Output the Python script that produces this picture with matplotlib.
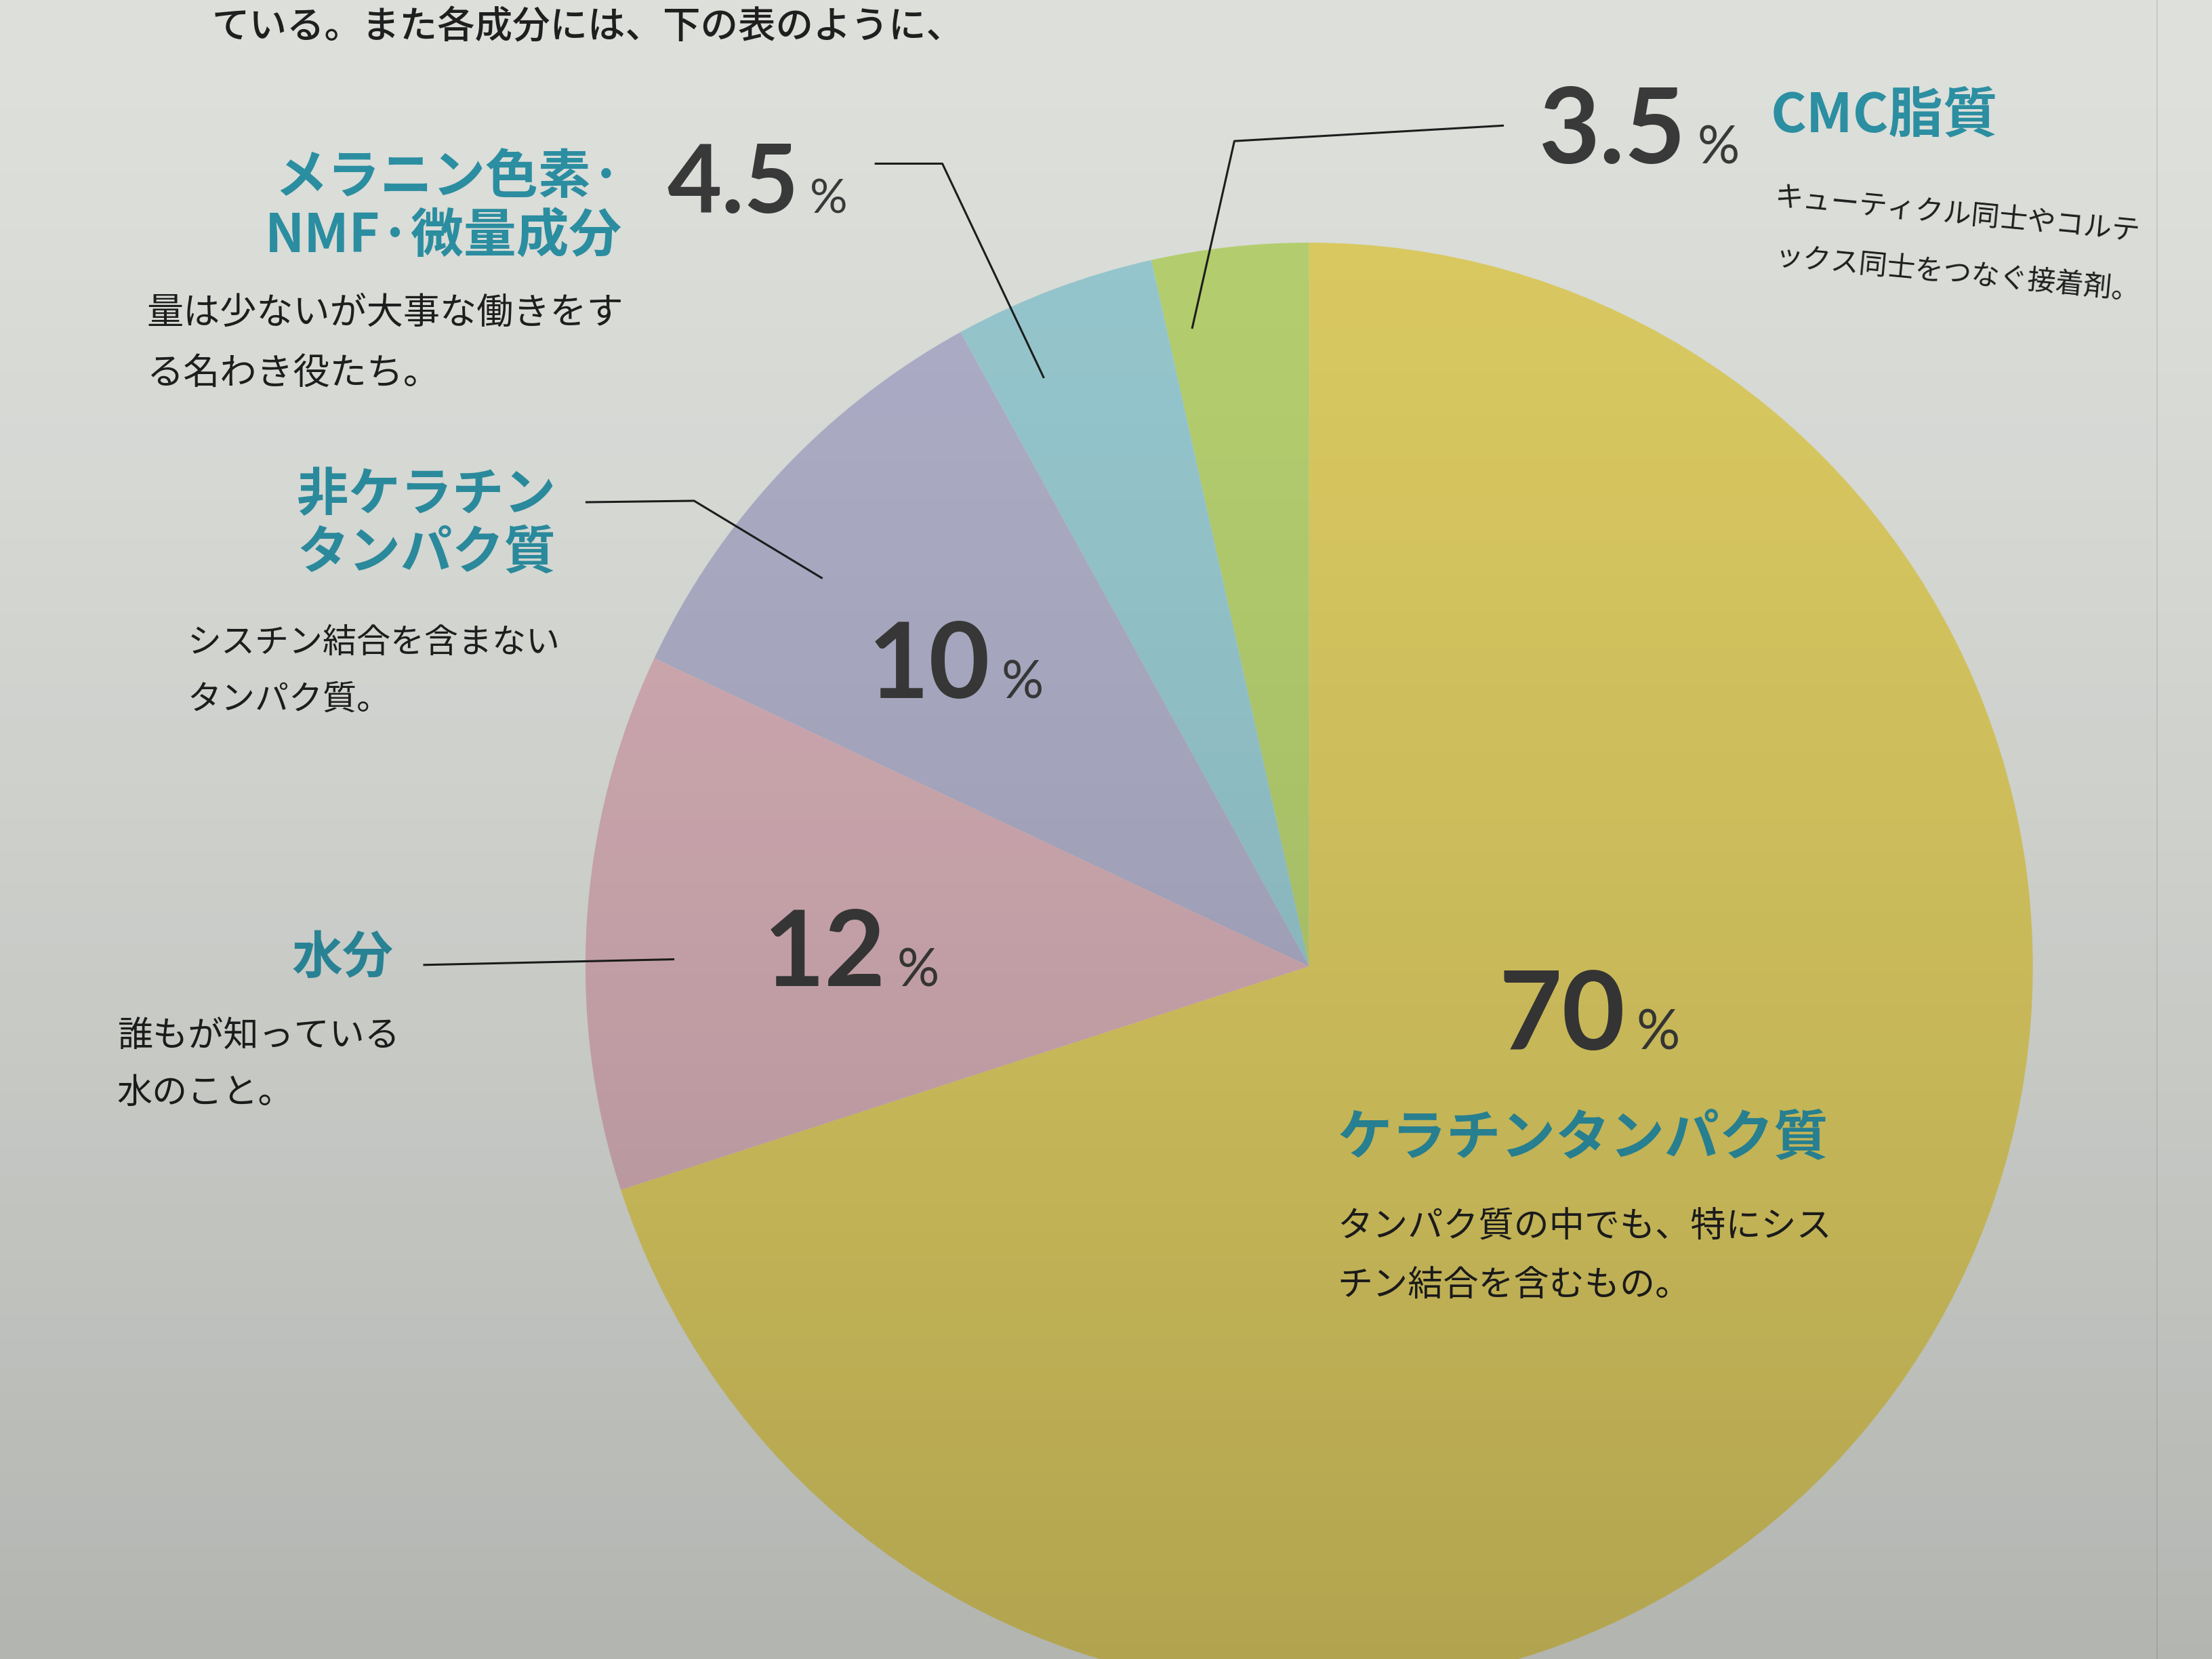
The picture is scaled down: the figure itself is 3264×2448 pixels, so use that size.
import matplotlib.pyplot as plt
import numpy as np
from matplotlib.patches import Rectangle

plt.rcParams['font.family'] = ['Noto Sans CJK JP', 'DejaVu Sans']

# --- data: hair composition (%) ---
components = ['CMC脂質', 'メラニン色素·NMF·微量成分', '非ケラチンタンパク質', '水分', 'ケラチンタンパク質']
shares = [3.5, 4.5, 10, 12, 70]
share_text = ['3.5', '4.5', '10', '12', '70']
slice_colors = ['#b6d070', '#97c8cf', '#aeaec8', '#d4adb5', '#dccb62']
titles = [
    ['CMC脂質'],
    ['メラニン色素·', 'NMF·微量成分'],
    ['非ケラチン', 'タンパク質'],
    ['水分'],
    ['ケラチンタンパク質'],
]
notes = [
    ['キューティクル同士やコルテ', 'ックス同士をつなぐ接着剤。'],
    ['量は少ないが大事な働きをす', 'る名わき役たち。'],
    ['シスチン結合を含まない', 'タンパク質。'],
    ['誰もが知っている', '水のこと。'],
    ['タンパク質の中でも、特にシス', 'チン結合を含むもの。'],
]
intro = 'ている。また各成分には、下の表のように、'

# --- layout (in page pixels of a 1568x1176 view) ---
W, H = 1568, 1176
TEAL = '#2c8fa2'
DARK = '#3a3a3a'
INK = '#1f1f1f'
pie_center = (928, 685)
pie_radius = 513

# number: (right edge of digits, baseline, size); title: (x, y of first line, ha, size, line gap)
num_pos = [(1195, 116, 112), (566, 151, 100), (702, 495, 112), (628, 699, 112), (1152, 744, 116)]
title_pos = [(1255, 82, 'left', 58, 0), (441, 126, 'right', 56, 42), (394, 351, 'right', 55, 41),
             (279, 679, 'right', 54, 0), (948, 807, 'left', 58, 0)]
note_pos = [(1258, 140, -5.5, 30, 42), (104, 222, 0, 39, 43), (133, 456, 0, 36, 40),
            (83, 735, 0, 37.5, 40), (948, 870, 0, 37.5, 42)]
leaders = [
    [(1066, 89), (875, 100), (845, 233)],
    [(620, 116), (668, 116), (740, 268)],
    [(415, 356), (492, 355), (583, 410)],
    [(300, 684), (478, 680)],
]


def Y(y):
    return H - y


fig = plt.figure(figsize=(32.64, 24.48), dpi=100)
fig.patch.set_facecolor('#dcdfda')
ax = fig.add_axes([0, 0, 1, 1])
ax.set_facecolor('#dcdfda')

ax.pie(shares, colors=slice_colors, startangle=90, counterclock=True,
       center=(pie_center[0], Y(pie_center[1])), radius=pie_radius,
       wedgeprops={'linewidth': 0})
ax.set_xlim(0, W)
ax.set_ylim(0, H)
ax.set_aspect('auto')
ax.axis('off')

# leader lines
for pts in leaders:
    xs = [p[0] for p in pts]
    ys = [Y(p[1]) for p in pts]
    ax.plot(xs, ys, color='#1e1e1e', lw=2.2, solid_capstyle='butt')

# big percentages
for txt, (x, y, size) in zip(share_text, num_pos):
    ax.text(x, Y(y), txt, ha='right', va='baseline', fontsize=size, fontweight='bold',
            family=['Lato', 'DejaVu Sans'], color=DARK)
    ax.text(x + 8, Y(y), '%', ha='left', va='baseline', fontsize=size * 0.5,
            family=['Lato', 'DejaVu Sans'], color=DARK)

# teal titles
for lines, (x, y, ha, size, gap) in zip(titles, title_pos):
    for i, line in enumerate(lines):
        ax.text(x, Y(y + i * gap), line, ha=ha, va='center', fontsize=size,
                fontweight='bold', color=TEAL)

# descriptions
for lines, (x, y, rot, size, gap) in zip(notes, note_pos):
    for i, line in enumerate(lines):
        ax.text(x, Y(y + i * gap), line, ha='left', va='center', fontsize=size,
                rotation=rot, rotation_mode='anchor', color=INK)

# running text at the very top of the page
ax.text(150, Y(33), intro, ha='left', va='bottom', fontsize=40, fontweight='medium', color=INK)

# page edge on the right
ax.add_patch(Rectangle((1529, 0), W - 1529, H, facecolor='white', alpha=0.05, lw=0, zorder=5))
ax.plot([1529, 1529], [0, H], color='#9a9a94', lw=1.2, alpha=0.35, zorder=5)

# photo lighting: page gets darker toward the bottom
t = np.linspace(0, 1, 400)
shade = np.zeros((400, 1, 4))
shade[:, 0, 3] = 0.19 * t ** 1.4
ax.imshow(shade, extent=(0, W, 0, H), origin='upper', aspect='auto', zorder=10,
          interpolation='bilinear')
ax.set_xlim(0, W)
ax.set_ylim(0, H)

fig.savefig('out.png', dpi=100, facecolor=fig.get_facecolor())
